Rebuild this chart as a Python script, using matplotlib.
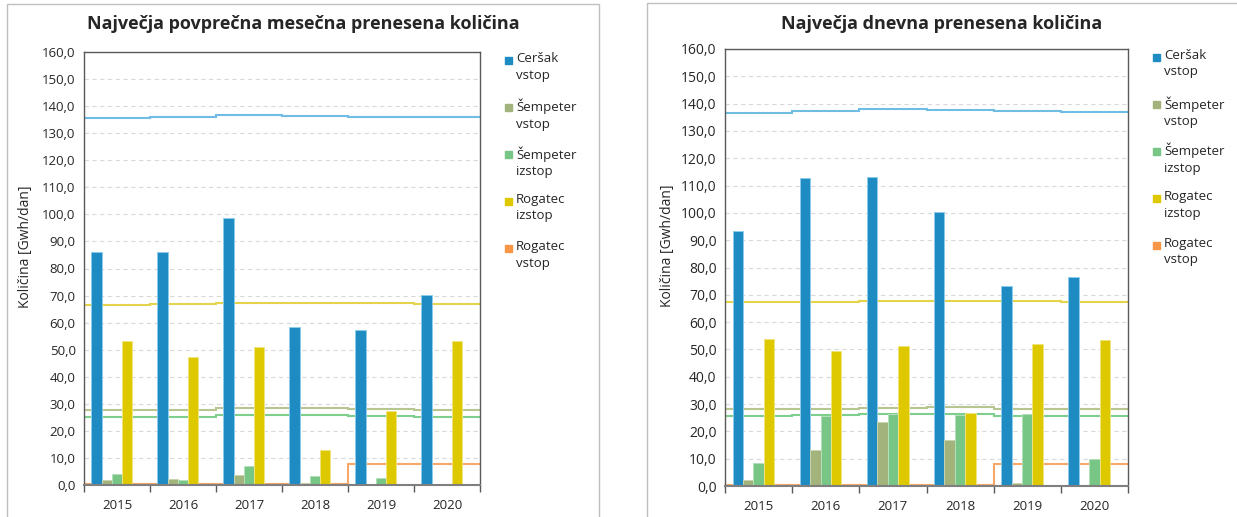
import numpy as np
import matplotlib
matplotlib.use('Agg')
import matplotlib.pyplot as plt
from matplotlib.patches import Rectangle
from matplotlib.ticker import FuncFormatter, MultipleLocator, FixedLocator
from matplotlib.transforms import offset_copy

plt.rcParams['font.family'] = ['Open Sans', 'DejaVu Sans']

# ---------------------------
# Podatki
# ---------------------------
years = ['2015', '2016', '2017', '2018', '2019', '2020']
series = ['Ceršak\nvstop', 'Šempeter\nvstop', 'Šempeter\nizstop',
          'Rogatec\nizstop', 'Rogatec\nvstop']

# Največja povprečna mesečna prenesena količina
mes_cersak = [86.0, 86.0, 98.8, 58.3, 57.1, 70.2]
mes_semp_vstop = [2.0, 2.1, 3.7, 0.9, 0.0, 0.0]
mes_semp_izstop = [3.9, 1.8, 7.2, 3.5, 2.5, 0.3]
mes_rog_izstop = [53.1, 47.3, 51.0, 13.1, 27.3, 53.3]
mes_rog_vstop = [0.0, 0.0, 0.0, 0.0, 0.0, 0.0]
# zmogljivosti (stopnice)
mes_cap_cersak = [135.5, 136.0, 136.7, 136.3, 136.1, 135.9]
mes_cap_semp_vstop = [27.8, 27.8, 28.3, 28.5, 28.0, 27.8]
mes_cap_semp_izstop = [25.3, 25.3, 25.8, 25.9, 25.4, 25.3]
mes_cap_rog_izstop = [66.6, 67.0, 67.4, 67.4, 67.1, 66.8]
mes_cap_rog_vstop = [0.3, 0.3, 0.3, 0.3, 7.8, 7.8]

# Največja dnevna prenesena količina
dne_cersak = [93.3, 112.6, 113.2, 100.2, 73.2, 76.6]
dne_semp_vstop = [2.1, 13.1, 23.6, 17.0, 1.2, 0.0]
dne_semp_izstop = [8.3, 25.6, 26.3, 26.0, 26.4, 9.9]
dne_rog_izstop = [53.8, 49.5, 51.2, 26.6, 51.9, 53.6]
dne_rog_vstop = [0.0, 0.0, 0.0, 0.0, 0.0, 0.0]
dne_cap_cersak = [136.6, 137.2, 138.0, 137.6, 137.4, 137.1]
dne_cap_semp_vstop = [28.1, 28.1, 28.4, 28.8, 28.3, 28.1]
dne_cap_semp_izstop = [25.6, 25.9, 26.2, 26.2, 25.7, 25.6]
dne_cap_rog_izstop = [67.2, 67.5, 67.9, 67.7, 67.6, 67.4]
dne_cap_rog_vstop = [0.3, 0.3, 0.3, 0.3, 8.1, 7.9]

# ---------------------------
# Slog
# ---------------------------
bar_colors = ['#1E8BC3', '#A2B47C', '#78C685', '#DEC900', '#F79646']
bar_edges = ['#8FCBEA', '#C9D4B0', '#B3E0BA', '#F0E480', '#FBC9A0']
cap_colors = ['#6FBDE4', '#B7C691', '#7ECF8E', '#E6D34C', '#F7A868']
bar_w = 0.155
txt_color = '#262626'


def draw_panel(fig, rect, title, title_xy, bars, caps, ylabel_xy, tick_fs):
    ax = fig.add_axes(rect)
    x = np.arange(len(years))
    edges = np.arange(len(years) + 1) - 0.5

    # stopnice zmogljivosti
    for k, vals in enumerate(caps):
        ax.stairs(vals, edges, baseline=None, color=cap_colors[k], lw=1.5, zorder=1.5)

    # stolpci
    for k, vals in enumerate(bars):
        ax.bar(x + (k - 2) * bar_w, vals, width=bar_w, color=bar_colors[k],
               edgecolor=bar_edges[k], linewidth=0.7, zorder=2, label=series[k])

    ax.set_xlim(-0.5, len(years) - 0.5)
    ax.set_ylim(0, 160)
    ax.yaxis.set_major_locator(MultipleLocator(10))
    ax.yaxis.set_major_formatter(FuncFormatter(lambda v, p: f'{v:.1f}'.replace('.', ',')))
    ax.set_xticks(x)
    ax.set_xticklabels(years)
    ax.xaxis.set_minor_locator(FixedLocator(edges))
    ax.tick_params(axis='x', which='major', length=0, pad=10, labelsize=9.5, colors=txt_color)
    ax.tick_params(axis='x', which='minor', length=5, width=1, color='#595959')
    ax.tick_params(axis='y', length=0, pad=6, labelsize=tick_fs, colors=txt_color)
    ax.grid(axis='y', ls=(0, (4, 3)), color='#D9D9D9', lw=0.8)
    ax.set_axisbelow(True)
    for s in ax.spines.values():
        s.set_color('#595959')
        s.set_linewidth(1.0)
    ax.spines['bottom'].set_color('#7F7F7F')
    ax.spines['bottom'].set_linewidth(1.5)

    ax.set_ylabel('Količina [Gwh/dan]', fontsize=10, color=txt_color)
    ax.yaxis.set_label_coords(*ylabel_xy)

    fig.text(title_xy[0], title_xy[1], title, ha='center', va='center',
             fontsize=13, fontweight='bold', color=txt_color)

    # legenda: kvadratek poravnan s prvo vrstico
    x_px, y_px = ax.transAxes.transform((1, 1))
    for k, name in enumerate(series):
        tr_txt = offset_copy(ax.transAxes, fig=fig, x=36, y=-47 * k, units='dots')
        ax.text(1, 1, name, transform=tr_txt, ha='left', va='top', fontsize=9.5,
                linespacing=1.35, color=txt_color, clip_on=False)
        fig.add_artist(Rectangle(((x_px + 25) / fig.bbox.width,
                                  (y_px - 12 - 47 * k) / fig.bbox.height),
                                 7 / fig.bbox.width, 7 / fig.bbox.height,
                                 transform=fig.transFigure, color=bar_colors[k]))
    return ax


fig = plt.figure(figsize=(12.37, 5.17), dpi=100)
W, H = 1237, 517

# okvirja panelov
fig.add_artist(Rectangle((7 / W, -0.02), (599 - 7) / W, 1.02 - 4 / H,
                         transform=fig.transFigure, fill=False, ec='#BFBFBF', lw=1))
fig.add_artist(Rectangle((647 / W, -0.02), 1.0, 1.02 - 3 / H,
                         transform=fig.transFigure, fill=False, ec='#BFBFBF', lw=1))

draw_panel(fig, [84 / W, 1 - 485 / H, (480 - 84) / W, (485 - 52) / H],
           'Največja povprečna mesečna prenesena količina', (303 / W, 1 - 24 / H),
           [mes_cersak, mes_semp_vstop, mes_semp_izstop, mes_rog_izstop, mes_rog_vstop],
           [mes_cap_cersak, mes_cap_semp_vstop, mes_cap_semp_izstop,
            mes_cap_rog_izstop, mes_cap_rog_vstop],
           (-0.13, 0.55), 9.5)

draw_panel(fig, [725 / W, 1 - 486 / H, (1128 - 725) / W, (486 - 49) / H],
           'Največja dnevna prenesena količina', (942 / W, 1 - 24 / H),
           [dne_cersak, dne_semp_vstop, dne_semp_izstop, dne_rog_izstop, dne_rog_vstop],
           [dne_cap_cersak, dne_cap_semp_vstop, dne_cap_semp_izstop,
            dne_cap_rog_izstop, dne_cap_rog_vstop],
           (-0.125, 0.55), 10)

fig.savefig('out.png', dpi=100)
